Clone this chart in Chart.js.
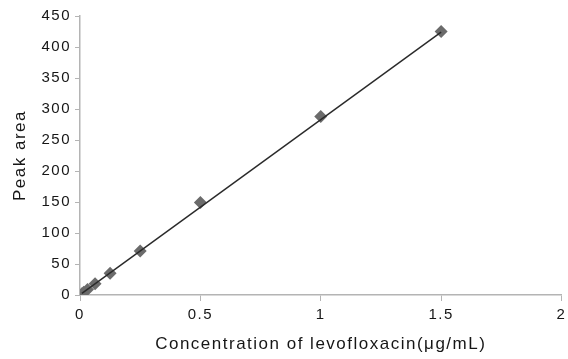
<!DOCTYPE html>
<html>
<head>
<meta charset="utf-8">
<script src="https://cdn.jsdelivr.net/npm/chart.js@4"></script>
<style>
  html, body { margin: 0; padding: 0; background: #fff; }
  #wrap { width: 568px; height: 359px; }
</style>
</head>
<body>
<div id="wrap"><canvas id="myChart" width="568" height="359"></canvas></div>
<script>
// concentracion (ug/mL) y area de pico
const concentrations = [0.0078, 0.0156, 0.03125, 0.0625, 0.125, 0.25, 0.5, 1, 1.5];
const peakAreas = [2, 4.5, 9, 18, 35, 71, 149, 288, 425];
// recta de calibracion (extremos)
const fitX = [0.0078, 1.5];
const fitY = [2.5, 424];
const xTicks = [0, 0.5, 1, 1.5, 2];

const points = concentrations.map((c, i) => ({ x: c, y: peakAreas[i] }));
const fitLine = fitX.map((c, i) => ({ x: c, y: fitY[i] }));

// texto algo espaciado como en la figura original
const spacing = {
  id: "spacing",
  beforeUpdate: (chart) => { chart.ctx.letterSpacing = "1.5px"; },
  beforeLayout: (chart) => { chart.ctx.letterSpacing = "1.5px"; },
  beforeDraw: (chart) => { chart.ctx.letterSpacing = "1.5px"; },
};

const ctx = document.getElementById("myChart");
new Chart(ctx, {
  type: "scatter",
  data: {
    datasets: [
      {
        label: "Datos",
        data: points,
        pointStyle: "rectRot",
        pointRadius: 6.5,
        backgroundColor: "#6b6b6b",
        borderColor: "#6b6b6b",
        borderWidth: 0,
        order: 2,
      },
      {
        label: "Ajuste",
        type: "line",
        data: fitLine,
        borderColor: "#2a2a2a",
        borderWidth: 1.5,
        pointRadius: 0,
        fill: false,
        order: 1,
      },
    ],
  },
  plugins: [spacing],
  options: {
    responsive: false,
    animation: false,
    layout: { padding: { top: 16, right: 5, left: 0, bottom: 0 } },
    plugins: {
      legend: { display: false },
      tooltip: { enabled: false },
    },
    scales: {
      x: {
        type: "linear",
        min: 0,
        max: 2,
        afterBuildTicks: (axis) => {
          axis.ticks = xTicks.map((v) => ({ value: v }));
        },
        afterFit: (scale) => {
          scale.height = 64;
          scale.paddingRight = 0;
          scale.paddingLeft = 0;
        },
        grid: {
          drawOnChartArea: false,
          drawTicks: true,
          tickLength: 6,
          color: "#b4b4b4",
        },
        border: { color: "#b4b4b4", width: 1.5 },
        ticks: {
          color: "#161616",
          font: { family: "Liberation Sans", size: 15 },
          padding: 5,
          maxRotation: 0,
          callback: (v) => String(v),
        },
        title: {
          display: true,
          text: "Concentration of levofloxacin(\u03bcg/mL)",
          color: "#161616",
          font: { family: "Liberation Sans", size: 17 },
          padding: { top: 0, bottom: 4 },
        },
      },
      y: {
        min: 0,
        max: 450,
        afterFit: (scale) => {
          scale.width = 80;
          scale.paddingTop = 0;
          scale.paddingBottom = 0;
        },
        ticks: {
          stepSize: 50,
          color: "#161616",
          font: { family: "Liberation Sans", size: 15 },
          padding: 4,
        },
        grid: {
          drawOnChartArea: false,
          drawTicks: true,
          tickLength: 5,
          color: "#b4b4b4",
        },
        border: { color: "#b4b4b4", width: 1.5 },
        title: {
          display: true,
          text: "Peak area",
          color: "#161616",
          font: { family: "Liberation Sans", size: 17 },
          padding: { top: 10, bottom: 0 },
        },
      },
    },
  },
});
</script>
</body>
</html>
